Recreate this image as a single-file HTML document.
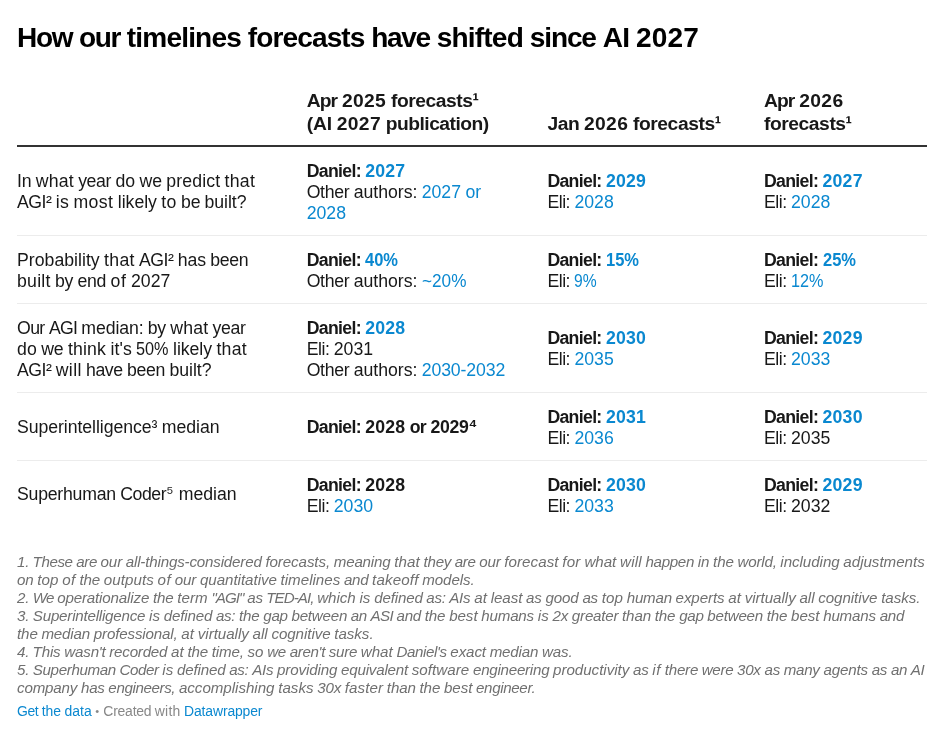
<!DOCTYPE html>
<html lang="en"><head><meta charset="utf-8"><title>How our timelines forecasts have shifted since AI 2027</title>
<style>
html,body{margin:0;padding:0;background:#fff;}
body{width:938px;height:732px;overflow:hidden;font-family:"Liberation Sans",Arial,Helvetica,sans-serif;color:#181818;position:relative;}
.chart{position:absolute;left:17px;top:0;width:910px;}
h1{font-size:28.05px;font-weight:700;margin:0;padding-top:21px;line-height:34px;color:#000;white-space:nowrap;}
table{border-collapse:separate;border-spacing:0;width:910px;margin-top:25px;font-size:17.68px;line-height:21px;table-layout:fixed;}
th{text-align:left;vertical-align:bottom;font-weight:700;font-size:19.25px;line-height:23px;padding:9px 0 10px 0;border-bottom:2px solid #333;letter-spacing:0px;white-space:nowrap;}
td{vertical-align:middle;padding:13.5px 0 11.5px 0;border-bottom:1px solid #ececec;white-space:nowrap;}
tr:last-child td{border-bottom:none}
.l{display:block;}
b{font-weight:700}
.hl{color:#0a88d0}
.s{position:relative;top:-0.1em}
.notes{font-size:15.15px;font-style:italic;color:#707070;line-height:18px;margin-top:25px;white-space:nowrap;}
.footer{font-size:13.94px;color:#888;margin-top:5px;line-height:18px;white-space:nowrap;}
.footer a{color:#0a88d0;text-decoration:none}
.w{display:inline-block;white-space:pre;transform-origin:0 50%;}
</style></head><body>
<div class="chart">
<h1><span class="w" style="width:61.98px;letter-spacing:-1.354px">How </span><span class="w" style="width:47.84px;letter-spacing:-1.396px">our </span><span class="w" style="width:121.05px;letter-spacing:-0.821px">timelines </span><span class="w" style="width:123.48px;letter-spacing:-0.898px">forecasts </span><span class="w" style="width:65.38px;letter-spacing:-1.352px">have </span><span class="w" style="width:93.14px;letter-spacing:-0.806px">shifted </span><span class="w" style="width:72.84px;letter-spacing:-1.147px">since </span><span class="w" style="width:33.38px;letter-spacing:-0.766px">AI </span><span class="w" style="width:63.12px;letter-spacing:0.180px">2027</span></h1>
<table>
<colgroup><col style="width:289.7px"><col style="width:240.7px"><col style="width:216.6px"><col></colgroup>
<thead><tr><th></th><th><span class="l"><span class="w" style="width:35.31px;letter-spacing:-0.880px">Apr </span><span class="w" style="width:48.98px;letter-spacing:0.340px">2025 </span><span class="w" style="width:88.83px;letter-spacing:-0.439px">forecasts¹</span></span><span class="l"><span class="w" style="width:30.09px;letter-spacing:-0.125px">(AI </span><span class="w" style="width:48.98px;letter-spacing:0.340px">2027 </span><span class="w" style="width:102.98px;letter-spacing:-0.508px">publication)</span></span></th><th><span class="l"><span class="w" style="width:36.66px;letter-spacing:-0.438px">Jan </span><span class="w" style="width:48.98px;letter-spacing:0.340px">2026 </span><span class="w" style="width:88.83px;letter-spacing:-0.439px">forecasts¹</span></span></th><th><span class="l"><span class="w" style="width:35.31px;letter-spacing:-0.880px">Apr </span><span class="w" style="width:44.19px;letter-spacing:0.340px">2026</span></span><span class="l"><span class="w" style="width:88.83px;letter-spacing:-0.439px">forecasts¹</span></span></th></tr></thead>
<tbody>
<tr><td><span class="l"><span class="w" style="width:18.78px;letter-spacing:-0.156px">In </span><span class="w" style="width:42.39px;letter-spacing:0.176px">what </span><span class="w" style="width:37.25px;letter-spacing:-0.371px">year </span><span class="w" style="width:24.20px;letter-spacing:0.094px">do </span><span class="w" style="width:26.78px;letter-spacing:-0.078px">we </span><span class="w" style="width:58.23px;letter-spacing:0.121px">predict </span><span class="w" style="width:30.61px;letter-spacing:0.281px">that</span></span><span class="l"><span class="w" style="width:38.77px;letter-spacing:-0.477px">AGI² </span><span class="w" style="width:17.64px;letter-spacing:0.266px">is </span><span class="w" style="width:44.44px;letter-spacing:0.449px">most </span><span class="w" style="width:43.38px;letter-spacing:-0.042px">likely </span><span class="w" style="width:19.89px;letter-spacing:0.398px">to </span><span class="w" style="width:23.45px;letter-spacing:-0.281px">be </span><span class="w" style="width:41.98px;letter-spacing:-0.044px">built?</span></span></td><td><span class="l"><b><span class="w" style="width:58.56px;letter-spacing:-0.674px">Daniel: </span></b><b class="hl"><span class="w" style="width:40.17px;letter-spacing:0.211px">2027</span></b></span><span class="l"><span class="w" style="width:46.97px;letter-spacing:-0.316px">Other </span><span class="w" style="width:68.06px;letter-spacing:-0.018px">authors: </span><span class="hl"><span class="w" style="width:43.69px;letter-spacing:0.004px">2027 </span><span class="w" style="width:15.92px;letter-spacing:0.102px">or</span></span></span><span class="l"><span class="hl"><span class="w" style="width:39.34px;letter-spacing:0.004px">2028</span></span></span></td><td><span class="l"><b><span class="w" style="width:58.56px;letter-spacing:-0.674px">Daniel: </span></b><b class="hl"><span class="w" style="width:40.17px;letter-spacing:0.211px">2029</span></b></span><span class="l"><span class="w" style="width:27.05px;letter-spacing:-0.465px">Eli: </span><span class="hl"><span class="w" style="width:39.34px;letter-spacing:0.004px">2028</span></span></span></td><td><span class="l"><b><span class="w" style="width:58.56px;letter-spacing:-0.674px">Daniel: </span></b><b class="hl"><span class="w" style="width:40.17px;letter-spacing:0.211px">2027</span></b></span><span class="l"><span class="w" style="width:27.05px;letter-spacing:-0.465px">Eli: </span><span class="hl"><span class="w" style="width:39.34px;letter-spacing:0.004px">2028</span></span></span></td></tr>
<tr><td><span class="l"><span class="w" style="width:87.08px;letter-spacing:0.020px">Probability </span><span class="w" style="width:34.95px;letter-spacing:0.281px">that </span><span class="w" style="width:38.77px;letter-spacing:-0.477px">AGI² </span><span class="w" style="width:32.55px;letter-spacing:-0.099px">has </span><span class="w" style="width:38.06px;letter-spacing:-0.316px">been</span></span><span class="l"><span class="w" style="width:38.06px;letter-spacing:0.259px">built </span><span class="w" style="width:22.36px;letter-spacing:-0.328px">by </span><span class="w" style="width:33.17px;letter-spacing:-0.224px">end </span><span class="w" style="width:20.42px;letter-spacing:0.664px">of </span><span class="w" style="width:39.34px;letter-spacing:0.004px">2027</span></span></td><td><span class="l"><b><span class="w" style="width:58.56px;letter-spacing:-0.674px">Daniel: </span></b><b class="hl"><span class="w" style="width:33.03px;transform:scaleX(0.9337)">40%</span></b></span><span class="l"><span class="w" style="width:46.97px;letter-spacing:-0.316px">Other </span><span class="w" style="width:68.06px;letter-spacing:-0.018px">authors: </span><span class="hl"><span class="w" style="width:44.41px;transform:scaleX(0.9716)">~20%</span></span></span></td><td><span class="l"><b><span class="w" style="width:58.56px;letter-spacing:-0.674px">Daniel: </span></b><b class="hl"><span class="w" style="width:33.03px;transform:scaleX(0.9337)">15%</span></b></span><span class="l"><span class="w" style="width:27.05px;letter-spacing:-0.465px">Eli: </span><span class="hl"><span class="w" style="width:22.66px;transform:scaleX(0.8869)">9%</span></span></span></td><td><span class="l"><b><span class="w" style="width:58.56px;letter-spacing:-0.674px">Daniel: </span></b><b class="hl"><span class="w" style="width:33.03px;transform:scaleX(0.9337)">25%</span></b></span><span class="l"><span class="w" style="width:27.05px;letter-spacing:-0.465px">Eli: </span><span class="hl"><span class="w" style="width:32.50px;transform:scaleX(0.9187)">12%</span></span></span></td></tr>
<tr><td><span class="l"><span class="w" style="width:31.97px;letter-spacing:-0.615px">Our </span><span class="w" style="width:32.36px;letter-spacing:-0.812px">AGI </span><span class="w" style="width:66.53px;letter-spacing:-0.098px">median: </span><span class="w" style="width:22.36px;letter-spacing:-0.328px">by </span><span class="w" style="width:42.39px;letter-spacing:0.176px">what </span><span class="w" style="width:32.91px;letter-spacing:-0.371px">year</span></span><span class="l"><span class="w" style="width:24.20px;letter-spacing:0.094px">do </span><span class="w" style="width:26.78px;letter-spacing:-0.078px">we </span><span class="w" style="width:42.50px;letter-spacing:0.163px">think </span><span class="w" style="width:25.73px;letter-spacing:0.086px">it's </span><span class="w" style="width:36.84px;transform:scaleX(0.9187)">50% </span><span class="w" style="width:43.38px;letter-spacing:-0.042px">likely </span><span class="w" style="width:30.61px;letter-spacing:0.281px">that</span></span><span class="l"><span class="w" style="width:38.77px;letter-spacing:-0.477px">AGI² </span><span class="w" style="width:30.27px;letter-spacing:0.344px">will </span><span class="w" style="width:41.03px;letter-spacing:-0.410px">have </span><span class="w" style="width:42.41px;letter-spacing:-0.316px">been </span><span class="w" style="width:41.98px;letter-spacing:-0.044px">built?</span></span></td><td><span class="l"><b><span class="w" style="width:58.56px;letter-spacing:-0.674px">Daniel: </span></b><b class="hl"><span class="w" style="width:40.17px;letter-spacing:0.211px">2028</span></b></span><span class="l"><span class="w" style="width:27.05px;letter-spacing:-0.465px">Eli: </span><span class="w" style="width:39.34px;letter-spacing:0.004px">2031</span></span><span class="l"><span class="w" style="width:46.97px;letter-spacing:-0.316px">Other </span><span class="w" style="width:68.06px;letter-spacing:-0.018px">authors: </span><span class="hl"><span class="w" style="width:83.53px;letter-spacing:-0.109px">2030-2032</span></span></span></td><td><span class="l"><b><span class="w" style="width:58.56px;letter-spacing:-0.674px">Daniel: </span></b><b class="hl"><span class="w" style="width:40.17px;letter-spacing:0.211px">2030</span></b></span><span class="l"><span class="w" style="width:27.05px;letter-spacing:-0.465px">Eli: </span><span class="hl"><span class="w" style="width:39.34px;letter-spacing:0.004px">2035</span></span></span></td><td><span class="l"><b><span class="w" style="width:58.56px;letter-spacing:-0.674px">Daniel: </span></b><b class="hl"><span class="w" style="width:40.17px;letter-spacing:0.211px">2029</span></b></span><span class="l"><span class="w" style="width:27.05px;letter-spacing:-0.465px">Eli: </span><span class="hl"><span class="w" style="width:39.34px;letter-spacing:0.004px">2033</span></span></span></td></tr>
<tr><td><span class="l"><span class="w" style="width:144.75px;letter-spacing:-0.059px">Superintelligence³ </span><span class="w" style="width:57.94px;letter-spacing:-0.005px">median</span></span></td><td><span class="l"><b><span class="w" style="width:58.56px;letter-spacing:-0.674px">Daniel: </span><span class="w" style="width:44.53px;letter-spacing:0.211px">2028 </span><span class="w" style="width:20.66px;letter-spacing:-0.695px">or </span><span class="w" style="width:46.69px;letter-spacing:-0.278px">2029<span class="s">⁴</span></span></b></span></td><td><span class="l"><b><span class="w" style="width:58.56px;letter-spacing:-0.674px">Daniel: </span></b><b class="hl"><span class="w" style="width:40.17px;letter-spacing:0.211px">2031</span></b></span><span class="l"><span class="w" style="width:27.05px;letter-spacing:-0.465px">Eli: </span><span class="hl"><span class="w" style="width:39.34px;letter-spacing:0.004px">2036</span></span></span></td><td><span class="l"><b><span class="w" style="width:58.56px;letter-spacing:-0.674px">Daniel: </span></b><b class="hl"><span class="w" style="width:40.17px;letter-spacing:0.211px">2030</span></b></span><span class="l"><span class="w" style="width:27.05px;letter-spacing:-0.465px">Eli: </span><span class="w" style="width:39.34px;letter-spacing:0.004px">2035</span></span></td></tr>
<tr><td><span class="l" style="position:relative;top:-1px"><span class="w" style="width:103.23px;letter-spacing:-0.231px">Superhuman </span><span class="w" style="width:58.52px;letter-spacing:-0.432px">Coder<span class="s">⁵</span> </span><span class="w" style="width:57.94px;letter-spacing:-0.005px">median</span></span></td><td><span class="l"><b><span class="w" style="width:58.56px;letter-spacing:-0.674px">Daniel: </span></b><b><span class="w" style="width:40.17px;letter-spacing:0.211px">2028</span></b></span><span class="l"><span class="w" style="width:27.05px;letter-spacing:-0.465px">Eli: </span><span class="hl"><span class="w" style="width:39.34px;letter-spacing:0.004px">2030</span></span></span></td><td><span class="l"><b><span class="w" style="width:58.56px;letter-spacing:-0.674px">Daniel: </span></b><b class="hl"><span class="w" style="width:40.17px;letter-spacing:0.211px">2030</span></b></span><span class="l"><span class="w" style="width:27.05px;letter-spacing:-0.465px">Eli: </span><span class="hl"><span class="w" style="width:39.34px;letter-spacing:0.004px">2033</span></span></span></td><td><span class="l"><b><span class="w" style="width:58.56px;letter-spacing:-0.674px">Daniel: </span></b><b class="hl"><span class="w" style="width:40.17px;letter-spacing:0.211px">2029</span></b></span><span class="l"><span class="w" style="width:27.05px;letter-spacing:-0.465px">Eli: </span><span class="w" style="width:39.34px;letter-spacing:0.004px">2032</span></span></td></tr>
</tbody></table>
<div class="notes">
<span class="l"><span class="w" style="width:15.56px;letter-spacing:-0.258px">1. </span><span class="w" style="width:43.72px;letter-spacing:-0.419px">These </span><span class="w" style="width:24.34px;letter-spacing:-0.422px">are </span><span class="w" style="width:25.17px;letter-spacing:-0.146px">our </span><span class="w" style="width:139.67px;letter-spacing:-0.179px">all-things-considered </span><span class="w" style="width:68.36px;letter-spacing:-0.100px">forecasts, </span><span class="w" style="width:60.42px;letter-spacing:-0.199px">meaning </span><span class="w" style="width:29.42px;letter-spacing:0.109px">that </span><span class="w" style="width:31.25px;letter-spacing:-0.273px">they </span><span class="w" style="width:24.34px;letter-spacing:-0.422px">are </span><span class="w" style="width:25.17px;letter-spacing:-0.146px">our </span><span class="w" style="width:57.89px;letter-spacing:0.039px">forecast </span><span class="w" style="width:22.19px;letter-spacing:0.266px">for </span><span class="w" style="width:35.66px;letter-spacing:-0.012px">what </span><span class="w" style="width:25.47px;letter-spacing:0.180px">will </span><span class="w" style="width:52.20px;letter-spacing:-0.341px">happen </span><span class="w" style="width:15.41px;letter-spacing:-0.055px">in </span><span class="w" style="width:24.41px;letter-spacing:-0.125px">the </span><span class="w" style="width:42.86px;letter-spacing:-0.208px">world, </span><span class="w" style="width:62.97px;letter-spacing:-0.057px">including </span><span class="w" style="width:81.42px;letter-spacing:-0.020px">adjustments</span></span>
<span class="l"><span class="w" style="width:20.22px;letter-spacing:-0.172px">on </span><span class="w" style="width:25.02px;letter-spacing:0.078px">top </span><span class="w" style="width:17.22px;letter-spacing:0.430px">of </span><span class="w" style="width:24.41px;letter-spacing:-0.125px">the </span><span class="w" style="width:53.73px;letter-spacing:0.049px">outputs </span><span class="w" style="width:17.22px;letter-spacing:0.430px">of </span><span class="w" style="width:25.17px;letter-spacing:-0.146px">our </span><span class="w" style="width:80.62px;letter-spacing:-0.046px">quantitative </span><span class="w" style="width:63.38px;letter-spacing:-0.010px">timelines </span><span class="w" style="width:28.11px;letter-spacing:-0.292px">and </span><span class="w" style="width:50.20px;letter-spacing:0.147px">takeoff </span><span class="w" style="width:52.34px;letter-spacing:-0.096px">models.</span></span>
<span class="l"><span class="w" style="width:15.84px;letter-spacing:-0.258px">2. </span><span class="w" style="width:24.31px;letter-spacing:-0.922px">We </span><span class="w" style="width:95.77px;letter-spacing:-0.160px">operationalize </span><span class="w" style="width:24.41px;letter-spacing:-0.125px">the </span><span class="w" style="width:34.17px;letter-spacing:0.039px">term </span><span class="w" style="width:35.73px;letter-spacing:-0.966px">"AGI" </span><span class="w" style="width:19.02px;letter-spacing:-0.211px">as </span><span class="w" style="width:51.00px;letter-spacing:-0.938px">TED-AI, </span><span class="w" style="width:42.20px;letter-spacing:-0.047px">which </span><span class="w" style="width:14.88px;letter-spacing:0.109px">is </span><span class="w" style="width:52.11px;letter-spacing:-0.185px">defined </span><span class="w" style="width:22.92px;letter-spacing:-0.333px">as: </span><span class="w" style="width:24.88px;letter-spacing:-0.245px">AIs </span><span class="w" style="width:16.53px;letter-spacing:0.086px">at </span><span class="w" style="width:35.45px;letter-spacing:-0.050px">least </span><span class="w" style="width:19.30px;letter-spacing:-0.211px">as </span><span class="w" style="width:37.02px;letter-spacing:-0.098px">good </span><span class="w" style="width:19.30px;letter-spacing:-0.211px">as </span><span class="w" style="width:25.02px;letter-spacing:0.078px">top </span><span class="w" style="width:48.89px;letter-spacing:-0.225px">human </span><span class="w" style="width:52.56px;letter-spacing:-0.116px">experts </span><span class="w" style="width:16.53px;letter-spacing:0.086px">at </span><span class="w" style="width:54.73px;letter-spacing:-0.035px">virtually </span><span class="w" style="width:18.86px;letter-spacing:-0.005px">all </span><span class="w" style="width:62.91px;letter-spacing:-0.064px">cognitive </span><span class="w" style="width:39.28px;letter-spacing:-0.044px">tasks.</span></span>
<span class="l"><span class="w" style="width:15.84px;letter-spacing:-0.258px">3. </span><span class="w" style="width:116.16px;letter-spacing:-0.220px">Superintelligence </span><span class="w" style="width:14.88px;letter-spacing:0.109px">is </span><span class="w" style="width:52.11px;letter-spacing:-0.185px">defined </span><span class="w" style="width:22.92px;letter-spacing:-0.333px">as: </span><span class="w" style="width:24.41px;letter-spacing:-0.125px">the </span><span class="w" style="width:28.22px;letter-spacing:-0.255px">gap </span><span class="w" style="width:59.28px;letter-spacing:-0.241px">between </span><span class="w" style="width:19.83px;letter-spacing:-0.367px">an </span><span class="w" style="width:26.03px;letter-spacing:-0.698px">ASI </span><span class="w" style="width:28.11px;letter-spacing:-0.292px">and </span><span class="w" style="width:24.41px;letter-spacing:-0.125px">the </span><span class="w" style="width:32.14px;letter-spacing:-0.051px">best </span><span class="w" style="width:56.47px;letter-spacing:-0.188px">humans </span><span class="w" style="width:14.88px;letter-spacing:0.109px">is </span><span class="w" style="width:19.27px;letter-spacing:-0.227px">2x </span><span class="w" style="width:50.16px;letter-spacing:-0.221px">greater </span><span class="w" style="width:32.72px;letter-spacing:-0.117px">than </span><span class="w" style="width:24.41px;letter-spacing:-0.125px">the </span><span class="w" style="width:28.22px;letter-spacing:-0.255px">gap </span><span class="w" style="width:59.28px;letter-spacing:-0.241px">between </span><span class="w" style="width:24.41px;letter-spacing:-0.125px">the </span><span class="w" style="width:32.14px;letter-spacing:-0.051px">best </span><span class="w" style="width:56.47px;letter-spacing:-0.188px">humans </span><span class="w" style="width:24.39px;letter-spacing:-0.292px">and</span></span>
<span class="l"><span class="w" style="width:24.41px;letter-spacing:-0.125px">the </span><span class="w" style="width:52.34px;letter-spacing:-0.174px">median </span><span class="w" style="width:87.56px;letter-spacing:-0.155px">professional, </span><span class="w" style="width:16.53px;letter-spacing:0.086px">at </span><span class="w" style="width:54.73px;letter-spacing:-0.035px">virtually </span><span class="w" style="width:18.86px;letter-spacing:-0.005px">all </span><span class="w" style="width:62.91px;letter-spacing:-0.064px">cognitive </span><span class="w" style="width:39.28px;letter-spacing:-0.044px">tasks.</span></span>
<span class="l"><span class="w" style="width:15.56px;letter-spacing:-0.258px">4. </span><span class="w" style="width:31.72px;letter-spacing:-0.152px">This </span><span class="w" style="width:45.05px;letter-spacing:-0.188px">wasn't </span><span class="w" style="width:61.59px;letter-spacing:-0.236px">recorded </span><span class="w" style="width:16.53px;letter-spacing:0.086px">at </span><span class="w" style="width:24.41px;letter-spacing:-0.125px">the </span><span class="w" style="width:35.66px;letter-spacing:-0.175px">time, </span><span class="w" style="width:19.69px;letter-spacing:-0.016px">so </span><span class="w" style="width:22.55px;letter-spacing:-0.266px">we </span><span class="w" style="width:39.05px;letter-spacing:-0.346px">aren't </span><span class="w" style="width:32.02px;letter-spacing:-0.293px">sure </span><span class="w" style="width:35.66px;letter-spacing:-0.012px">what </span><span class="w" style="width:53.95px;letter-spacing:-0.395px">Daniel's </span><span class="w" style="width:39.28px;letter-spacing:-0.128px">exact </span><span class="w" style="width:52.34px;letter-spacing:-0.174px">median </span><span class="w" style="width:30.48px;letter-spacing:-0.164px">was.</span></span>
<span class="l"><span class="w" style="width:15.84px;letter-spacing:-0.258px">5. </span><span class="w" style="width:86.72px;letter-spacing:-0.370px">Superhuman </span><span class="w" style="width:42.70px;letter-spacing:-0.453px">Coder </span><span class="w" style="width:14.88px;letter-spacing:0.109px">is </span><span class="w" style="width:52.11px;letter-spacing:-0.185px">defined </span><span class="w" style="width:22.92px;letter-spacing:-0.333px">as: </span><span class="w" style="width:24.88px;letter-spacing:-0.245px">AIs </span><span class="w" style="width:63.97px;letter-spacing:-0.134px">providing </span><span class="w" style="width:70.78px;letter-spacing:-0.197px">equivalent </span><span class="w" style="width:61.25px;letter-spacing:0.037px">software </span><span class="w" style="width:80.03px;letter-spacing:-0.257px">engineering </span><span class="w" style="width:80.06px;letter-spacing:-0.020px">productivity </span><span class="w" style="width:19.30px;letter-spacing:-0.211px">as </span><span class="w" style="width:12.41px;letter-spacing:0.555px">if </span><span class="w" style="width:37.03px;letter-spacing:-0.241px">there </span><span class="w" style="width:35.17px;letter-spacing:-0.344px">were </span><span class="w" style="width:27.52px;letter-spacing:-0.208px">30x </span><span class="w" style="width:19.30px;letter-spacing:-0.211px">as </span><span class="w" style="width:39.66px;letter-spacing:-0.273px">many </span><span class="w" style="width:48.25px;letter-spacing:-0.156px">agents </span><span class="w" style="width:19.30px;letter-spacing:-0.211px">as </span><span class="w" style="width:19.83px;letter-spacing:-0.367px">an </span><span class="w" style="width:13.58px;letter-spacing:-0.367px">AI</span></span>
<span class="l"><span class="w" style="width:63.97px;letter-spacing:-0.170px">company </span><span class="w" style="width:27.39px;letter-spacing:-0.250px">has </span><span class="w" style="width:70.56px;letter-spacing:-0.388px">engineers, </span><span class="w" style="width:99.34px;letter-spacing:-0.025px">accomplishing </span><span class="w" style="width:39.12px;letter-spacing:0.013px">tasks </span><span class="w" style="width:27.52px;letter-spacing:-0.208px">30x </span><span class="w" style="width:41.97px;letter-spacing:0.062px">faster </span><span class="w" style="width:32.72px;letter-spacing:-0.117px">than </span><span class="w" style="width:24.41px;letter-spacing:-0.125px">the </span><span class="w" style="width:32.14px;letter-spacing:-0.051px">best </span><span class="w" style="width:59.34px;letter-spacing:-0.359px">engineer.</span></span>
</div>
<div class="footer"><a><span class="w" style="width:24.67px;letter-spacing:-0.411px">Get </span><span class="w" style="width:22.88px;letter-spacing:0.016px">the </span><span class="w" style="width:30.75px;letter-spacing:0.043px">data </span></a><span class="w" style="width:8.09px;font-size:80%;position:relative;top:-0.12em">• </span><span class="w" style="width:51.41px;letter-spacing:-0.232px">Created </span><span class="w" style="width:29.28px;letter-spacing:0.262px">with </span><a><span class="w" style="width:78.34px;letter-spacing:-0.132px">Datawrapper</span></a></div>
</div>
</body></html>
